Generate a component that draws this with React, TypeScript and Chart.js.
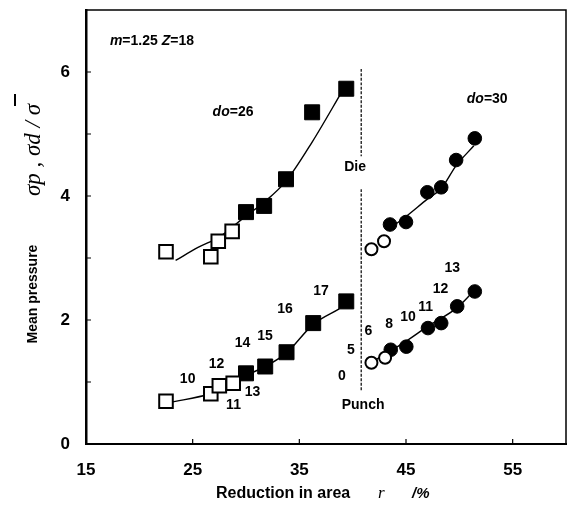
import React, { useEffect, useRef } from 'react';
import { Chart, registerables } from 'chart.js';

Chart.register(...registerables);

// ---- axes ----
const xTicks = [15, 25, 35, 45, 55];
const yTicks = [0, 1, 2, 3, 4, 5, 6];
const yTickLabels = ['0', '', '2', '', '4', '', '6'];

// ---- do=26, Die (upper) ----
const die26OpenR = [22.5, 26.7, 27.4, 28.7];
const die26OpenP = [3.1, 3.02, 3.27, 3.43];
const die26FillR = [30.0, 31.7, 33.75, 36.2, 39.4];
const die26FillP = [3.74, 3.84, 4.27, 5.35, 5.73];
const die26FitR = [23.4, 25.5, 27.6, 30.0, 31.7, 33.75, 36.2, 39.05];
const die26FitP = [2.96, 3.17, 3.35, 3.68, 3.9, 4.24, 4.87, 5.7];

// ---- do=26, Punch (lower) ----
const punch26OpenR = [22.5, 26.7, 27.5, 28.8];
const punch26OpenP = [0.69, 0.81, 0.94, 0.98];
const punch26FillR = [30.0, 31.8, 33.8, 36.3, 39.4];
const punch26FillP = [1.14, 1.25, 1.48, 1.95, 2.3];
const punch26FitR = [22.85, 26.7, 28.8, 30.0, 31.8, 33.8, 36.3, 38.74];
const punch26FitP = [0.67, 0.81, 0.95, 1.1, 1.25, 1.47, 1.93, 2.18];

// ---- do=30, Die (upper) ----
const die30OpenR = [41.76, 42.94];
const die30OpenP = [3.14, 3.27];
const die30FillR = [43.5, 45.0, 47.0, 48.3, 49.7, 51.45];
const die30FillP = [3.54, 3.58, 4.06, 4.14, 4.58, 4.93];
const die30FitR = [43.25, 45.0, 47.0, 48.3, 49.7, 51.36];
const die30FitP = [3.45, 3.67, 3.95, 4.12, 4.49, 4.81];

// ---- do=30, Punch (lower) ----
const punch30OpenR = [41.76, 43.04];
const punch30OpenP = [1.31, 1.39];
const punch30FillR = [43.57, 45.03, 47.06, 48.3, 49.8, 51.45];
const punch30FillP = [1.52, 1.57, 1.87, 1.95, 2.22, 2.46];
const punch30FitR = [42.17, 45.03, 47.06, 49.8, 51.26];
const punch30FitP = [1.36, 1.66, 1.9, 2.2, 2.45];

// ---- separator between Die / Punch groups ----
const sepR = [40.8, 40.8];
const sepUpperP = [6.05, 4.64];
const sepLowerP = [4.11, 0.86];

// ---- point number labels ----
const labelTexts = ['10', '11', '12', '13', '14', '15', '16', '17', '0', '5', '6', '8', '10', '11', '12', '13'];
const labelR = [24.53, 28.83, 27.24, 30.61, 29.67, 31.79, 33.66, 37.03, 38.99, 39.83, 41.48, 43.41, 45.19, 46.84, 48.24, 49.33];
const labelP = [1.05, 0.63, 1.29, 0.83, 1.63, 1.74, 2.18, 2.46, 1.09, 1.52, 1.82, 1.93, 2.04, 2.21, 2.49, 2.84];

const SANS = "'Liberation Sans', Arial, sans-serif";
const SERIF = "'Liberation Serif', 'Times New Roman', serif";

const zip = (xs: number[], ys: number[]) => xs.map((x, i) => ({ x, y: ys[i] }));

type Run = { t: string; f: string };
function drawRuns(ctx: CanvasRenderingContext2D, x: number, y: number, runs: Run[]) {
  let cx = x;
  ctx.textAlign = 'left';
  ctx.textBaseline = 'middle';
  for (const r of runs) {
    ctx.font = r.f;
    ctx.fillText(r.t, cx, y);
    cx += ctx.measureText(r.t).width;
  }
}

const decorPlugin = {
  id: 'decor',
  afterDraw(chart: any) {
    const { ctx, chartArea: a, scales } = chart;
    const xs = scales.x;
    const ys = scales.y;
    ctx.save();
    ctx.fillStyle = '#000';
    ctx.strokeStyle = '#000';

    // top and right frame
    ctx.lineWidth = 1.5;
    ctx.beginPath();
    ctx.moveTo(a.left, a.top);
    ctx.lineTo(a.right, a.top);
    ctx.lineTo(a.right, a.bottom);
    ctx.stroke();

    // inward ticks
    ctx.lineWidth = 1.2;
    ctx.beginPath();
    for (const v of yTicks) {
      const py = ys.getPixelForValue(v);
      ctx.moveTo(a.left, py);
      ctx.lineTo(a.left + 5, py);
    }
    for (const v of xTicks) {
      const px = xs.getPixelForValue(v);
      ctx.moveTo(px, a.bottom);
      ctx.lineTo(px, a.bottom - 5);
    }
    ctx.stroke();

    const P = (r: number, p: number) => [xs.getPixelForValue(r), ys.getPixelForValue(p)];

    // number labels
    ctx.font = `bold 14px ${SANS}`;
    ctx.textAlign = 'center';
    ctx.textBaseline = 'middle';
    labelTexts.forEach((t, i) => {
      const [px, py] = P(labelR[i], labelP[i]);
      ctx.fillText(t, px, py);
    });

    // Die / Punch
    ctx.font = `bold 14px ${SANS}`;
    {
      const [px, py] = P(40.23, 4.47);
      ctx.fillText('Die', px, py);
      const [qx, qy] = P(40.98, 0.63);
      ctx.fillText('Punch', qx, qy);
    }

    // m=1.25 Z=18
    {
      const [px, py] = P(17.24, 6.49);
      drawRuns(ctx, px, py, [
        { t: 'm', f: `italic bold 14px ${SANS}` },
        { t: '=1.25 ', f: `bold 14px ${SANS}` },
        { t: 'Z', f: `italic bold 14px ${SANS}` },
        { t: '=18', f: `bold 14px ${SANS}` },
      ]);
    }
    // do=26, do=30
    {
      const [px, py] = P(26.87, 5.36);
      drawRuns(ctx, px, py, [
        { t: 'do', f: `italic bold 14px ${SANS}` },
        { t: '=26', f: `bold 14px ${SANS}` },
      ]);
      const [qx, qy] = P(50.7, 5.57);
      drawRuns(ctx, qx, qy, [
        { t: 'do', f: `italic bold 14px ${SANS}` },
        { t: '=30', f: `bold 14px ${SANS}` },
      ]);
    }

    // x axis title
    {
      const y = 494;
      ctx.textAlign = 'left';
      ctx.textBaseline = 'middle';
      ctx.font = `bold 16px ${SANS}`;
      ctx.fillText('Reduction in area', 216, y);
      ctx.font = `italic 17px ${SERIF}`;
      ctx.fillText('r', 378, y);
      ctx.font = `italic bold 15px ${SANS}`;
      ctx.fillText('/%', 412, y);
    }

    // y axis titles
    ctx.save();
    ctx.translate(33, 294);
    ctx.rotate(-Math.PI / 2);
    ctx.textAlign = 'center';
    ctx.textBaseline = 'middle';
    ctx.font = `bold 14px ${SANS}`;
    ctx.fillText('Mean pressure', 0, 0);
    ctx.restore();

    ctx.save();
    ctx.translate(34, 150);
    ctx.rotate(-Math.PI / 2);
    ctx.textAlign = 'center';
    ctx.textBaseline = 'middle';
    ctx.font = `italic 23px ${SERIF}`;
    const s = 'σp , σd / σ';
    ctx.fillText(s, 0, 0);
    const w = ctx.measureText(s).width;
    ctx.lineWidth = 2;
    ctx.beginPath();
    ctx.moveTo(w / 2 - 2, -19);
    ctx.lineTo(w / 2 + 10, -19);
    ctx.stroke();
    ctx.restore();

    ctx.restore();
  },
};

export default function App() {
  const ref = useRef<HTMLCanvasElement | null>(null);

  useEffect(() => {
    if (!ref.current) return;
    const line = (xs: number[], ys: number[], extra: any = {}) => ({
      data: zip(xs, ys),
      showLine: true,
      borderColor: '#000',
      borderWidth: 1.4,
      pointRadius: 0,
      tension: 0.4,
      cubicInterpolationMode: 'monotone',
      fill: false,
      order: 2,
      ...extra,
    });
    const marks = (xs: number[], ys: number[], style: string, filled: boolean, r: number) => ({
      data: zip(xs, ys),
      showLine: false,
      pointStyle: style,
      pointRadius: r,
      pointBackgroundColor: filled ? '#000' : '#fff',
      pointBorderColor: '#000',
      pointBorderWidth: filled ? 1 : 2,
      order: 1,
    });

    const chart = new Chart(ref.current, {
      type: 'scatter',
      data: {
        datasets: [
          line(die26FitR, die26FitP),
          line(punch26FitR, punch26FitP),
          line(die30FitR, die30FitP),
          line(punch30FitR, punch30FitP),
          line(sepR, sepUpperP, { tension: 0, borderDash: [3, 1.5], borderWidth: 1.2 }),
          line(sepR, sepLowerP, { tension: 0, borderDash: [3, 1.5], borderWidth: 1.2 }),
          marks(die26OpenR, die26OpenP, 'rect', false, 9.6),
          marks(die26FillR, die26FillP, 'rect', true, 10.6),
          marks(punch26OpenR, punch26OpenP, 'rect', false, 9.6),
          marks(punch26FillR, punch26FillP, 'rect', true, 10.6),
          marks(die30OpenR, die30OpenP, 'circle', false, 6),
          marks(die30FillR, die30FillP, 'circle', true, 6.8),
          marks(punch30OpenR, punch30OpenP, 'circle', false, 6),
          marks(punch30FillR, punch30FillP, 'circle', true, 6.8),
        ] as any,
      },
      options: {
        animation: false,
        responsive: false,
        devicePixelRatio: 1,
        layout: { autoPadding: false, padding: { left: 0, top: 10, right: 3, bottom: 0 } },
        plugins: { legend: { display: false }, tooltip: { enabled: false } },
        scales: {
          x: {
            type: 'linear',
            min: 15,
            max: 60,
            afterBuildTicks: (s: any) => {
              s.ticks = xTicks.map((v) => ({ value: v }));
            },
            afterFit: (s: any) => {
              s.height = 66;
              s.paddingLeft = 0;
              s.paddingRight = 0;
              s.paddingTop = 0;
              s.paddingBottom = 0;
            },
            grid: { display: false, drawTicks: false },
            border: { display: true, color: '#000', width: 2 },
            ticks: {
              color: '#000',
              padding: 16,
              font: { family: SANS, size: 17, weight: 'bold' },
              maxRotation: 0,
              autoSkip: false,
            },
          },
          y: {
            type: 'linear',
            min: 0,
            max: 7,
            afterBuildTicks: (s: any) => {
              s.ticks = yTicks.map((v) => ({ value: v }));
            },
            afterFit: (s: any) => {
              s.width = 86;
              s.paddingLeft = 0;
              s.paddingRight = 0;
              s.paddingTop = 0;
              s.paddingBottom = 0;
            },
            grid: { display: false, drawTicks: false },
            border: { display: true, color: '#000', width: 2.5 },
            ticks: {
              color: '#000',
              padding: 16,
              font: { family: SANS, size: 17, weight: 'bold' },
              autoSkip: false,
              callback: (v: any) => {
                const i = yTicks.indexOf(Number(v));
                return i >= 0 ? yTickLabels[i] : '';
              },
            },
          },
        },
      } as any,
      plugins: [decorPlugin],
    });
    return () => chart.destroy();
  }, []);

  return (
    <div style={{ position: 'absolute', left: 0, top: 0, width: 569, height: 510, background: '#fff' }}>
      <canvas ref={ref} width={569} height={510} style={{ display: 'block' }} />
    </div>
  );
}
